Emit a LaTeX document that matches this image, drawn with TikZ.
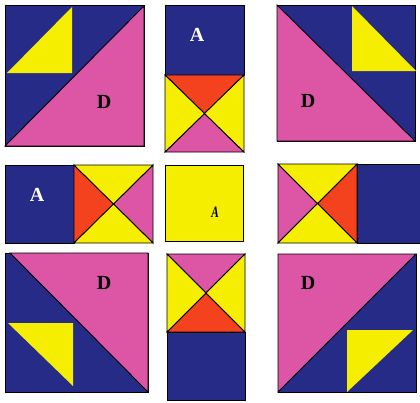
\documentclass[tikz,border=0pt]{standalone}
\usepackage{fontspec}
\setmainfont{Liberation Serif}
\usepackage{tikz}
\definecolor{qnavy}{RGB}{38,43,135}
\definecolor{qpink}{RGB}{220,86,165}
\definecolor{qyellow}{RGB}{245,238,0}
\definecolor{qred}{RGB}{245,66,30}
\tikzset{
  patch/.style={draw=black,line width=0.9pt,line join=miter},
  letterD/.style={text=black,font=\fontsize{20}{20}\selectfont\bfseries,inner sep=0pt},
  letterA/.style={text=white,font=\fontsize{20}{20}\selectfont\bfseries,inner sep=0pt},
  smallA/.style={text=black,font=\fontsize{16}{16}\selectfont\bfseries\itshape,inner sep=0pt,xscale=0.7}
}
\begin{document}
\begin{tikzpicture}[x=1pt,y=-1pt]
\useasboundingbox[fill=white] (0,0) rectangle (420,402);
% ---------- top-left ----------
\fill[qnavy,patch] (5,5) rectangle (144,146);
\fill[qpink,patch] (5,146) -- (144,6) -- (144,146) -- cycle;
\fill[qyellow] (7,73) -- (72,7) -- (72,73) -- cycle;
\node[letterD] (d1) at (104,102) {D};
% ---------- top-middle ----------
\fill[qnavy,patch] (165,5) rectangle (244,75);
\fill[qred,patch]    (165,75) -- (244,75) -- (204.5,113.5) -- cycle;
\fill[qpink,patch]   (165,152) -- (244,152) -- (204.5,113.5) -- cycle;
\fill[qyellow,patch] (165,75) -- (165,152) -- (204.5,113.5) -- cycle;
\fill[qyellow,patch] (244,75) -- (244,152) -- (204.5,113.5) -- cycle;
\node[letterA] (a1) at (197,35) {A};
% ---------- top-right ----------
\fill[qnavy,patch] (277,5) rectangle (415,141);
\fill[qpink,patch] (277,5) -- (277,141) -- (415,141) -- cycle;
\fill[qyellow] (352,6) -- (352,71) -- (416,71) -- cycle;
\node[letterD] (d2) at (308,101) {D};
% ---------- middle-left ----------
\fill[qnavy,patch] (5,165) rectangle (74,243);
\fill[qred,patch]    (74,165) -- (74,243) -- (113.5,204) -- cycle;
\fill[qpink,patch]   (153,165) -- (153,243) -- (113.5,204) -- cycle;
\fill[qyellow,patch] (74,165) -- (153,165) -- (113.5,204) -- cycle;
\fill[qyellow,patch] (74,243) -- (153,243) -- (113.5,204) -- cycle;
\node[letterA] (a2) at (37,195) {A};
% ---------- centre ----------
\fill[qyellow,patch] (165,165) rectangle (243,241);
\node[smallA] (a3) at (215,212) {A};
% ---------- middle-right ----------
\fill[qnavy,patch] (357,164) rectangle (422,243);
\fill[qpink,patch]   (278,164) -- (278,243) -- (317.5,203.5) -- cycle;
\fill[qred,patch]    (357,164) -- (357,243) -- (317.5,203.5) -- cycle;
\fill[qyellow,patch] (278,164) -- (357,164) -- (317.5,203.5) -- cycle;
\fill[qyellow,patch] (278,243) -- (357,243) -- (317.5,203.5) -- cycle;
% ---------- bottom-left ----------
\fill[qnavy,patch] (5,253) rectangle (148,392);
\fill[qpink,patch] (10,253) -- (148,253) -- (148,392) -- cycle;
\fill[qyellow] (8,323) -- (73,323) -- (73,386) -- cycle;
\node[letterD] (d3) at (104,283) {D};
% ---------- bottom-middle ----------
\fill[qnavy,patch] (167,332) rectangle (245,400);
\fill[qpink,patch]   (167,254) -- (245,254) -- (206,293) -- cycle;
\fill[qred,patch]    (167,332) -- (245,332) -- (206,293) -- cycle;
\fill[qyellow,patch] (167,254) -- (167,332) -- (206,293) -- cycle;
\fill[qyellow,patch] (245,254) -- (245,332) -- (206,293) -- cycle;
% ---------- bottom-right ----------
\fill[qnavy,patch] (278,254) rectangle (416,392);
\fill[qpink,patch] (278,254) -- (416,254) -- (278,392) -- cycle;
\fill[qyellow] (347,330) -- (413,330) -- (347,392) -- cycle;
\node[letterD] (d4) at (308,283) {D};
\end{tikzpicture}
\end{document}
